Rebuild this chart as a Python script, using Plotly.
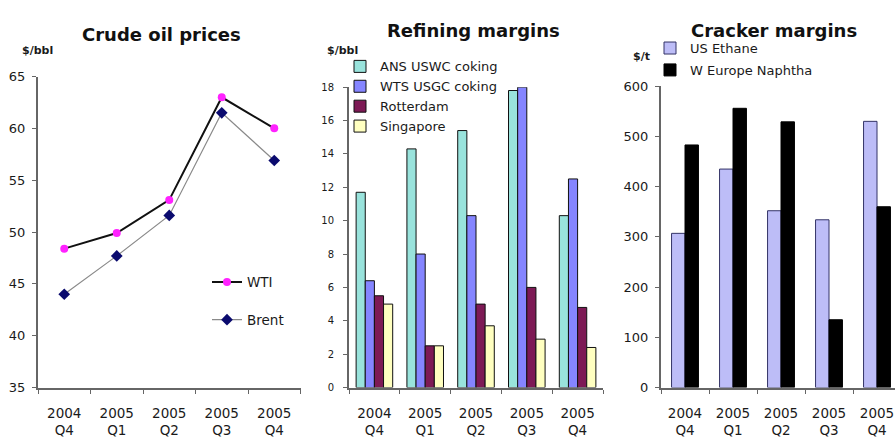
import plotly.graph_objects as go

# Quarter categories shared by the three panels
quarters = ["2004 Q4", "2005 Q1", "2005 Q2", "2005 Q3", "2005 Q4"]
quarter_labels = ["2004<br>Q4", "2005<br>Q1", "2005<br>Q2", "2005<br>Q3", "2005<br>Q4"]

# Crude oil prices, $/bbl
wti = [48.4, 49.9, 53.1, 63.0, 60.0]
brent = [44.0, 47.7, 51.6, 61.5, 56.9]

# Refining margins, $/bbl
ans_uswc = [11.7, 14.3, 15.4, 17.8, 10.3]
wts_usgc = [6.4, 8.0, 10.3, 18.0, 12.5]
rotterdam = [5.5, 2.5, 5.0, 6.0, 4.8]
singapore = [5.0, 2.5, 3.7, 2.9, 2.4]

# Cracker margins, $/t
us_ethane = [307, 435, 352, 334, 530]
weu_naphtha = [483, 556, 529, 135, 360]

W, H = 895, 439
FONT = "DejaVu Sans, Arial, sans-serif"
TXT = "#1a1a1a"
AXIS = "#666666"


def px(x):
    return x / W


def py(y):
    return (H - y) / H


fig = go.Figure()

# ---- Crude oil prices (lines) ----
fig.add_trace(go.Scatter(
    x=quarters, y=wti, name="WTI", mode="lines+markers",
    line=dict(color="#111111", width=2),
    marker=dict(symbol="circle", size=8, color="#ff22ff"),
    xaxis="x", yaxis="y", legend="legend", legendgroup="wti"))
fig.add_trace(go.Scatter(
    x=quarters, y=brent, name="Brent", mode="lines+markers",
    line=dict(color="#8a8a8a", width=1.2),
    marker=dict(symbol="diamond", size=9, color="#0a0a6e"),
    xaxis="x", yaxis="y", legend="legend", legendgroup="brent"))

# ---- Refining margins (clustered bars, four per quarter) ----
ref_series = [
    ("ANS USWC coking", ans_uswc, "#99e3dc"),
    ("WTS USGC coking", wts_usgc, "#8585ff"),
    ("Rotterdam", rotterdam, "#7d1a55"),
    ("Singapore", singapore, "#ffffc0"),
]
ref_w = 0.18
for i, (name, vals, col) in enumerate(ref_series):
    fig.add_trace(go.Bar(
        x=quarters, y=vals, name=name,
        width=ref_w, offset=-2 * ref_w + i * ref_w,
        marker=dict(color=col, line=dict(color="#111111", width=1)),
        xaxis="x2", yaxis="y2", legend="legend2"))

# ---- Cracker margins (clustered bars, two per quarter) ----
crk_w = 0.28
fig.add_trace(go.Bar(
    x=quarters, y=us_ethane, name="US Ethane", width=crk_w, offset=-crk_w,
    marker=dict(color="#bdbdf7", line=dict(color="#333366", width=1)),
    xaxis="x3", yaxis="y3", legend="legend3", legendgroup="eth"))
fig.add_trace(go.Bar(
    x=quarters, y=weu_naphtha, name="W Europe Naphtha", width=crk_w, offset=0,
    marker=dict(color="#000000", line=dict(color="#000000", width=1)),
    xaxis="x3", yaxis="y3", legend="legend3", legendgroup="nap"))

xcommon = dict(
    type="category", tickmode="array", tickvals=quarters, ticktext=quarter_labels,
    tickson="boundaries", ticks="outside", ticklen=4, tickcolor=AXIS, tickwidth=1,
    ticklabelstandoff=12,
    showline=True, linecolor=AXIS, linewidth=2, showgrid=False, zeroline=False,
    tickfont=dict(family=FONT, size=13.5, color=TXT), fixedrange=True)
ycommon = dict(
    ticks="outside", ticklen=4, tickcolor=AXIS, tickwidth=1, ticklabelstandoff=4,
    showline=True, linecolor=AXIS, linewidth=2, showgrid=False, zeroline=False,
    tickfont=dict(family=FONT, size=13, color=TXT), fixedrange=True)

ybot = py(394)

fig.update_layout(
    width=W, height=H,
    margin=dict(l=0, r=0, t=0, b=0),
    paper_bgcolor="white", plot_bgcolor="white",
    font=dict(family=FONT, color=TXT),
    xaxis=dict(xcommon, domain=[px(38), px(300.5)], anchor="y", range=[-0.5, 4.5]),
    yaxis=dict(ycommon, domain=[ybot, py(72)], anchor="x", range=[35, 65], dtick=5),
    xaxis2=dict(xcommon, domain=[px(349), px(603)], anchor="y2", range=[-0.5, 4.5]),
    yaxis2=dict(ycommon, domain=[ybot, py(83)], anchor="x2", range=[0, 18], dtick=2,
                tickfont=dict(family=FONT, size=10, color=TXT), ticklabelstandoff=7),
    xaxis3=dict(xcommon, domain=[px(661), 1.0], anchor="y3", range=[-0.5, 4.375]),
    yaxis3=dict(ycommon, domain=[ybot, py(82)], anchor="x3", range=[0, 600], dtick=100),
    legend=dict(x=px(207), y=py(269), xanchor="left", yanchor="top",
                bgcolor="rgba(0,0,0,0)", tracegroupgap=17,
                font=dict(family=FONT, size=13.5, color=TXT)),
    legend2=dict(x=px(340), y=py(46), xanchor="left", yanchor="top",
                 bgcolor="rgba(0,0,0,0)", tracegroupgap=0,
                 font=dict(family=FONT, size=13, color=TXT)),
    legend3=dict(x=px(650), y=py(27), xanchor="left", yanchor="top",
                 bgcolor="rgba(0,0,0,0)", tracegroupgap=2,
                 font=dict(family=FONT, size=13, color=TXT)),
    showlegend=True,
)

# Panel titles and unit labels
titles = [("Crude oil prices", 161, 28), ("Refining margins", 473, 24), ("Cracker margins", 774, 24)]
for text, xc, yc in titles:
    fig.add_annotation(text=f"<b>{text}</b>", x=px(xc), y=py(yc), xref="paper", yref="paper",
                       showarrow=False, xanchor="center", yanchor="middle",
                       font=dict(family=FONT, size=18, color="#111111"))
units = [("$/bbl", 37, 45), ("$/bbl", 342, 45), ("$/t", 641, 51)]
for text, xc, yc in units:
    fig.add_annotation(text=f"<b>{text}</b>", x=px(xc), y=py(yc), xref="paper", yref="paper",
                       showarrow=False, xanchor="center", yanchor="middle",
                       font=dict(family=FONT, size=11, color=TXT))

fig.write_html("out.html")
